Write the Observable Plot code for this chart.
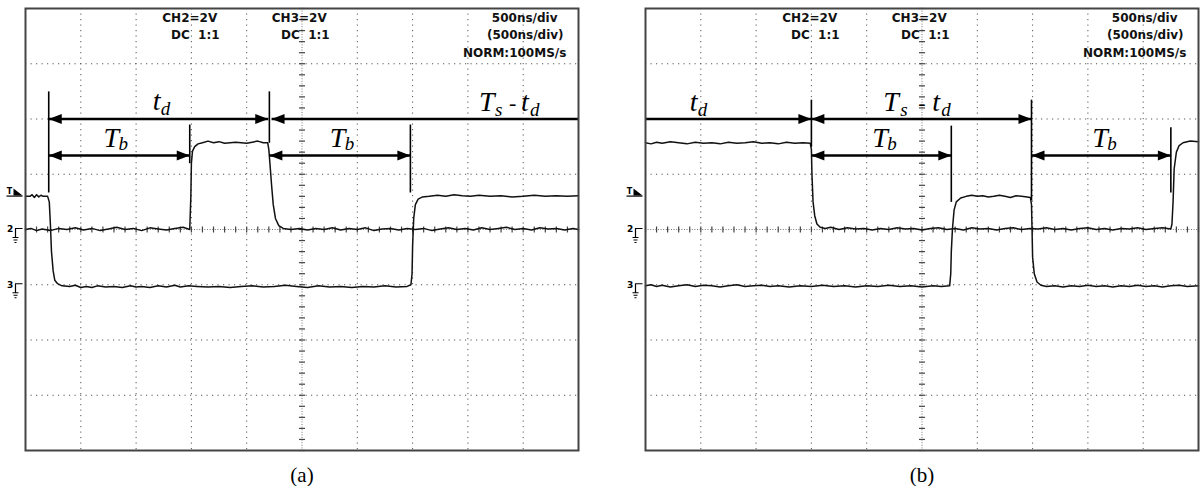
<!DOCTYPE html>
<html>
<head>
<meta charset="utf-8">
<script src="https://cdn.jsdelivr.net/npm/d3@7"></script>
<script src="https://cdn.jsdelivr.net/npm/@observablehq/plot@0.6"></script>
<style>
  html, body { margin: 0; padding: 0; background: #fff; }
  #wrap { position: relative; width: 1204px; height: 486px; overflow: hidden; }
  #wrap > div { position: absolute; top: 0; }
  svg text { white-space: pre; }
</style>
</head>
<body>
<div id="wrap"><div id="pa" style="left:0px"></div><div id="pb" style="left:620px"></div></div>
<script>
// ---------- DATA (units: oscilloscope divisions; x 0..10, y -4..4) ----------
const panelCaptions = ["(a)", "(b)"];
const scopeTexts = ["CH2=2V", "DC  1:1", "CH3=2V", "DC  1:1", "500ns/div", "(500ns/div)", "NORM:100MS/s"];

// Panel (a) traces
const a_ch3 = [[0,0.6],[0.08,0.6],[0.12,0.63],[0.16,0.58],[0.2,0.63],[0.24,0.59],[0.28,0.62],[0.32,0.6],[0.4,0.6],
 [0.43,0.5],[0.45,0.1],[0.47,-0.4],[0.5,-0.75],[0.53,-0.92],[0.58,-0.98],[0.66,-1.02],
 [0.8,-1.03],[0.9,-1.01],[1.0,-1.05],[1.1,-1.03],[1.2,-1.05],[1.3,-1.02],[1.45,-1.04],[1.6,-1.03],[1.75,-1.05],[1.9,-1.02],[2.0,-1.04],[2.1,-1.03],[2.25,-1.05],[2.4,-1.02],[2.55,-1.04],[2.7,-1.01],[2.8,-1.04],[2.95,-1.02],[3.1,-1.03],[3.3,-1.04],[3.5,-1.03],[3.7,-1.05],[3.9,-1.03],[4.1,-1.02],[4.3,-1.04],[4.5,-1.03],[4.7,-1.01],[4.9,-1.03],[5.1,-1.05],[5.3,-1.02],[5.5,-1.04],[5.7,-1.03],[5.9,-1.05],[6.1,-1.03],[6.3,-1.04],[6.5,-1.02],[6.7,-1.04],[6.9,-1.03],[6.97,-1.0],
 [6.99,-0.8],[7.0,-0.3],[7.02,0.2],[7.05,0.45],[7.1,0.55],[7.18,0.59],[7.3,0.6],[7.45,0.62],[7.6,0.6],[7.75,0.63],[7.9,0.61],[8.05,0.6],[8.2,0.62],[8.4,0.6],[8.6,0.61],[8.8,0.59],[9.0,0.6],[9.2,0.62],[9.4,0.6],[9.6,0.61],[9.8,0.6],[10,0.61]];
const a_ch2 = [[0,0],[0.1,0.02],[0.2,-0.02],[0.3,0.01],[0.45,-0.02],[0.6,0.02],[0.75,0],[0.9,0.03],[1.05,-0.01],[1.2,0.02],[1.35,-0.02],[1.5,0.01],[1.65,0.04],[1.8,0],[1.95,0.02],[2.1,-0.02],[2.25,0.03],[2.4,0.01],[2.55,-0.01],[2.7,0.02],[2.85,0.04],[2.97,0.0],
 [2.99,0.6],[3.0,1.2],[3.02,1.42],[3.06,1.5],[3.12,1.55],[3.2,1.57],[3.3,1.6],[3.4,1.57],[3.5,1.59],[3.6,1.56],[3.7,1.57],[3.8,1.58],[3.9,1.57],[4.0,1.56],[4.1,1.58],[4.2,1.6],[4.3,1.57],[4.38,1.57],
 [4.4,1.45],[4.42,1.2],[4.45,0.8],[4.48,0.45],[4.52,0.2],[4.58,0.07],[4.66,0.02],[4.8,0],[4.95,0.02],[5.1,-0.01],[5.25,0.02],[5.4,0],[5.55,0.03],[5.7,-0.01],[5.85,0.02],[6.0,0],[6.15,0.03],[6.3,-0.02],[6.45,0.01],[6.6,0.02],[6.75,-0.01],[6.9,0.02],[7.05,0],[7.2,0.02],[7.35,-0.02],[7.5,0.01],[7.65,0.03],[7.8,0],[7.95,0.02],[8.1,-0.01],[8.25,0.03],[8.4,0],[8.55,0.02],[8.7,0.04],[8.85,0],[9.0,0.02],[9.15,-0.01],[9.3,0.03],[9.45,0.01],[9.6,0.02],[9.75,-0.01],[9.9,0.02],[10,0]];

// Panel (b) traces
const b_ch2 = [[0,1.57],[0.1,1.55],[0.2,1.58],[0.3,1.56],[0.45,1.59],[0.6,1.57],[0.75,1.55],[0.9,1.58],[1.05,1.56],[1.2,1.57],[1.35,1.55],[1.5,1.58],[1.65,1.56],[1.8,1.57],[1.95,1.59],[2.1,1.56],[2.25,1.57],[2.4,1.55],[2.55,1.58],[2.7,1.56],[2.85,1.57],[2.98,1.56],
 [3.0,1.45],[3.01,1.0],[3.03,0.5],[3.06,0.25],[3.1,0.1],[3.16,0.04],[3.25,0.02],[3.35,0.04],[3.5,0],[3.65,0.03],[3.8,0.01],[3.95,0.02],[4.1,-0.01],[4.25,0.02],[4.4,0],[4.55,0.03],[4.7,0.01],[4.85,0.02],[5.0,-0.01],[5.15,0.02],[5.3,0.03],[5.45,0],[5.6,0.02],[5.75,-0.01],[5.9,0.03],[6.05,0.01],[6.2,0.02],[6.35,-0.01],[6.5,0.02],[6.65,0.03],[6.8,0],[6.95,0.02],[7.1,0.01],[7.25,0.03],[7.4,0],[7.55,0.02],[7.7,-0.01],[7.85,0.02],[8.0,0.03],[8.15,0],[8.3,0.02],[8.45,-0.01],[8.6,0.02],[8.75,0.01],[8.9,0.03],[9.05,0],[9.2,0.02],[9.35,0.03],[9.5,0.01],
 [9.52,0.1],[9.54,0.5],[9.56,1.1],[9.6,1.4],[9.65,1.52],[9.72,1.57],[9.85,1.6],[10,1.59]];
const b_ch3 = [[0,-1.02],[0.1,-1.0],[0.2,-1.03],[0.3,-1.01],[0.45,-1.04],[0.6,-1.02],[0.75,-1.0],[0.9,-1.03],[1.05,-1.01],[1.2,-1.02],[1.35,-1.04],[1.5,-1.02],[1.65,-1.0],[1.8,-1.03],[1.95,-1.02],[2.1,-1.01],[2.25,-1.03],[2.4,-1.02],[2.6,-1.04],[2.8,-1.02],[3.0,-1.03],[3.2,-1.01],[3.4,-1.03],[3.6,-1.02],[3.8,-1.04],[4.0,-1.02],[4.2,-1.03],[4.4,-1.01],[4.6,-1.03],[4.8,-1.02],[5.0,-1.04],[5.2,-1.02],[5.35,-1.03],[5.5,-1.02],
 [5.52,-0.8],[5.53,-0.4],[5.55,0.0],[5.58,0.35],[5.62,0.5],[5.7,0.57],[5.8,0.6],[5.9,0.62],[6.0,0.6],[6.1,0.61],[6.2,0.59],[6.3,0.6],[6.4,0.62],[6.5,0.6],[6.6,0.58],[6.7,0.61],[6.8,0.6],[6.9,0.59],[6.96,0.58],
 [6.98,0.45],[6.99,0.0],[7.0,-0.5],[7.03,-0.8],[7.08,-0.95],[7.15,-1.01],[7.25,-1.03],[7.4,-1.02],[7.55,-1.04],[7.7,-1.02],[7.85,-1.03],[8.0,-1.01],[8.15,-1.03],[8.3,-1.02],[8.45,-1.04],[8.6,-1.02],[8.75,-1.03],[8.9,-1.01],[9.05,-1.03],[9.2,-1.02],[9.35,-1.04],[9.5,-1.02],[9.65,-1.01],[9.8,-1.03],[10,-1.02]];

// Edge times marked by the vertical cursors (divisions)
const a_edges = [0.42, 2.97, 4.41, 6.96];
const b_edges = [3.0, 5.53, 6.98, 9.5];

// ---------- helpers ----------
const PX = 55.3; // px per division
const headR = {draw(c){ c.moveTo(0,0); c.lineTo(-13,-5); c.lineTo(-13,5); c.closePath(); }};
const headL = {draw(c){ c.moveTo(0,0); c.lineTo(13,-5); c.lineTo(13,5); c.closePath(); }};
const groundSym = {draw(c){
  c.moveTo(-3,-1); c.lineTo(-10,-1); c.lineTo(-10,8);
  c.moveTo(-13,8); c.lineTo(-7,8);
  c.moveTo(-12,10.5); c.lineTo(-8,10.5);
  c.moveTo(-11,13); c.lineTo(-9,13);
}};
const trigTri = {draw(c){ c.moveTo(-12,-5); c.lineTo(-12,2); c.lineTo(-3,2); c.closePath(); }};
const trigLine = {draw(c){ c.moveTo(-19,2.5); c.lineTo(-3,2.5); }};

function arrow(x1, x2, y, headLeft, headRight) {
  const m = [Plot.link([0], {x1: x1, x2: x2, y1: y, y2: y, stroke: "#000", strokeWidth: 2.5})];
  if (headLeft) m.push(Plot.dot([0], {x: x1, y: y, symbol: headL, fill: "#000", stroke: "none"}));
  if (headRight) m.push(Plot.dot([0], {x: x2, y: y, symbol: headR, fill: "#000", stroke: "none"}));
  return m;
}
function cursor(x, y1, y2) {
  return Plot.link([0], {x1: x, x2: x, y1: y1, y2: y2, stroke: "#000", strokeWidth: 1.6});
}
function label(x, y, parts) {
  return parts.map(([t, size, dx, dy, style]) => Plot.text([t], {
    x: x, y: y, text: d => d, fontSize: size, fontStyle: style || "italic",
    fontFamily: "Liberation Serif, Times New Roman, serif", textAnchor: "start",
    dx: dx, dy: dy - 0.32 * size, fill: "#000"
  }));
}
function scopeText(t, x, y, anchor) {
  return Plot.text([t], {x: x, y: y, text: d => d, fontSize: 12, fontWeight: "bold",
    fontFamily: "DejaVu Sans, sans-serif", textAnchor: anchor || "middle", fill: "#111"});
}

const majorX = [1,2,3,4,6,7,8,9];
const majorY = [-3,-2,-1,1,2,3];
const minorY = d3.range(-20, 21).map(i => i / 5);
const minorX = d3.range(0, 51).map(i => i / 5);
const tk = 3 / PX;

function graticule() {
  return [
    Plot.ruleX(majorX, {stroke: "#555", strokeWidth: 1, strokeDasharray: "1.2,4.3"}),
    Plot.ruleY(majorY, {stroke: "#555", strokeWidth: 1, strokeDasharray: "1.2,4.3"}),
    Plot.ruleX([5], {stroke: "#777", strokeWidth: 1, strokeDasharray: "1,1.6"}),
    Plot.ruleY([0], {stroke: "#777", strokeWidth: 1, strokeDasharray: "1,1.6"}),
    Plot.link(minorY, {x1: 5 - tk, x2: 5 + tk, y1: d => d, y2: d => d, stroke: "#444", strokeWidth: 1.2}),
    Plot.link(minorX, {x1: d => d, x2: d => d, y1: -tk, y2: tk, stroke: "#444", strokeWidth: 1.2})
  ];
}
function sideMarkers() {
  return [
    Plot.text(["T"], {x: 0, y: 0.65, text: d => d, dx: -16, dy: -2, fontSize: 8, fontWeight: "bold", fontFamily: "DejaVu Sans, sans-serif", fill: "#000"}),
    Plot.dot([0], {x: 0, y: 0.65, symbol: trigTri, fill: "#000", stroke: "none"}),
    Plot.dot([0], {x: 0, y: 0.65, symbol: trigLine, fill: "none", stroke: "#000", strokeWidth: 1.2}),
    Plot.text(["2"], {x: 0, y: 0, text: d => d, dx: -15.5, fontSize: 9, fontWeight: "bold", fontFamily: "DejaVu Sans, sans-serif", fill: "#000"}),
    Plot.dot([0], {x: 0, y: 0, symbol: groundSym, fill: "none", stroke: "#000", strokeWidth: 1.2}),
    Plot.text(["3"], {x: 0, y: -1, text: d => d, dx: -15.5, fontSize: 9, fontWeight: "bold", fontFamily: "DejaVu Sans, sans-serif", fill: "#000"}),
    Plot.dot([0], {x: 0, y: -1, symbol: groundSym, fill: "none", stroke: "#000", strokeWidth: 1.2})
  ];
}
function headerTexts() {
  return [
    scopeText(scopeTexts[0], 2.97, 3.82),
    scopeText(scopeTexts[1], 3.07, 3.51),
    scopeText(scopeTexts[2], 4.95, 3.82),
    scopeText(scopeTexts[3], 5.06, 3.51),
    scopeText(scopeTexts[4], 9.62, 3.82, "end"),
    scopeText(scopeTexts[5], 9.73, 3.51, "end"),
    scopeText(scopeTexts[6], 9.78, 3.19, "end")
  ];
}
function trace(data) {
  return Plot.line(data, {x: d => d[0], y: d => d[1], stroke: "#111", strokeWidth: 1.5, curve: "linear"});
}
function panel(width, marks, caption) {
  return Plot.plot({
    width: width, height: 486,
    marginLeft: 25, marginRight: width - 578, marginTop: 8, marginBottom: 36,
    x: {domain: [0, 10], axis: null},
    y: {domain: [-4, 4], axis: null},
    style: {background: "transparent", overflow: "visible"},
    marks: [
      ...graticule(),
      ...headerTexts(),
      ...sideMarkers(),
      ...marks,
      Plot.frame({stroke: "#444", strokeWidth: 2}),
      Plot.text([caption], {x: 5, y: -4, text: d => d, dy: 25, fontSize: 21, fontFamily: "Liberation Serif, Times New Roman, serif", fill: "#000"})
    ]
  });
}

// ---------- Panel (a) ----------
const yTop = 2.0, yLow = 1.34;
const [a0, a1, a2, a3] = a_edges;
const marksA = [
  trace(a_ch2), trace(a_ch3),
  cursor(a0, 2.5, 0.67), cursor(a1, 1.9, 1.2), cursor(a2, 2.5, 1.57), cursor(a3, 1.9, 0.67),
  ...arrow(a0, a2 - 0.02, yTop, true, true),
  ...arrow(a2 + 0.04, 10, yTop, true, false),
  ...arrow(a0, a1, yLow, true, true),
  ...arrow(a2, a3, yLow, true, true),
  ...label(2.30, 2.17, [["t", 28, 0, 0], ["d", 19, 8, 5]]),
  ...label(1.41, 1.50, [["T", 28, 0, 0], ["b", 19, 15, 3]]),
  ...label(5.50, 1.50, [["T", 28, 0, 0], ["b", 19, 15, 3]]),
  ...label(8.20, 2.15, [["T", 28, 0, 0], ["s", 19, 16, 5], ["-", 22, 30, -1, "normal"], ["t", 28, 42, 0], ["d", 19, 51, 5]])
];
document.getElementById("pa").appendChild(panel(600, marksA, panelCaptions[0]));

// ---------- Panel (b) ----------
const [b0, b1, b2, b3] = b_edges;
const marksB = [
  trace(b_ch2), trace(b_ch3),
  cursor(b0, 2.35, 1.5), cursor(b1, 1.88, 0.5), cursor(b2, 2.35, 0.53), cursor(b3, 1.85, 0.67),
  ...arrow(0, b0, yTop, false, true),
  ...arrow(b0, b2, yTop, true, true),
  ...arrow(b0, b1, yLow, true, true),
  ...arrow(b2, b3, yLow, true, true),
  ...label(0.80, 2.15, [["t", 28, 0, 0], ["d", 19, 8, 5]]),
  ...label(4.10, 1.50, [["T", 28, 0, 0], ["b", 19, 15, 3]]),
  ...label(8.08, 1.50, [["T", 28, 0, 0], ["b", 19, 15, 3]]),
  ...label(4.30, 2.15, [["T", 28, 0, 0], ["s", 19, 17, 5], ["-", 22, 35, -1, "normal"], ["t", 28, 49, 0], ["d", 19, 58, 5]])
];
document.getElementById("pb").appendChild(panel(584, marksB, panelCaptions[1]));
</script>
</body>
</html>
